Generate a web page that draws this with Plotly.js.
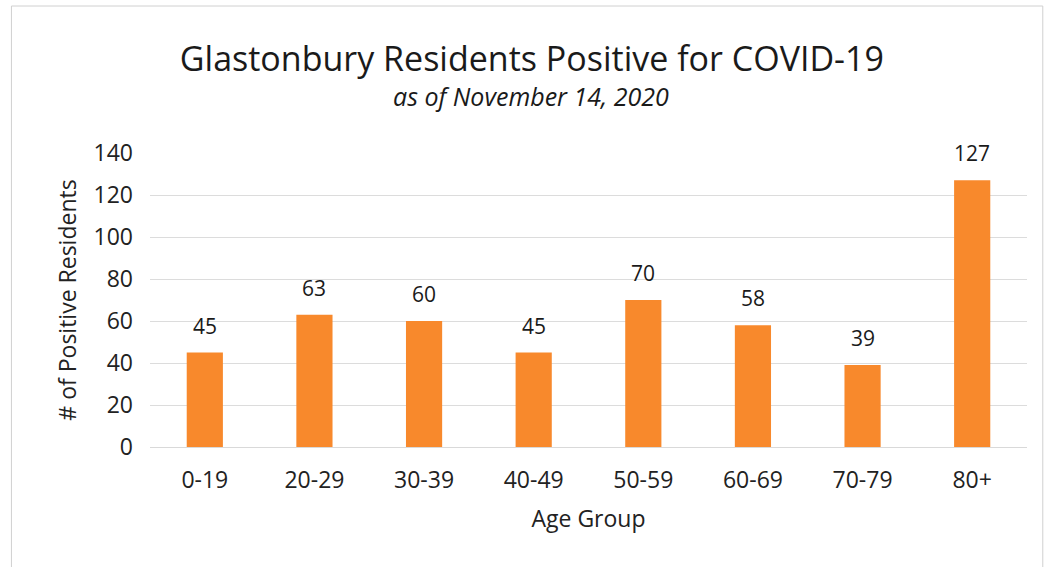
<!DOCTYPE html>
<html>
<head>
<meta charset="utf-8">
<script src="https://cdn.plot.ly/plotly-3.0.1.min.js"></script>
<style>html,body{margin:0;padding:0;background:#fff;}#chart{width:1047px;height:567px;}</style>
</head>
<body>
<div id="chart"></div>
<script>
const categories = ["0-19","20-29","30-39","40-49","50-59","60-69","70-79","80+"];
const positives = [45, 63, 60, 45, 70, 58, 39, 127];
const yTicks = [0, 20, 40, 60, 80, 100, 120, 140];

const font = "'Open Sans', Lato, sans-serif";
const trace = {
  type: "bar",
  x: categories,
  y: positives,
  marker: {color: "#F8892C"},
  hoverinfo: "x+y"
};
const annotations = categories.map((c, i) => ({
  x: c, y: positives[i], text: String(positives[i]),
  showarrow: false, yanchor: "bottom", yshift: 11,
  font: {family: font, size: 21, color: "#1a1a1a"}
}));
annotations.push({
  xref: "paper", yref: "paper", x: 0.435, y: 1.195, yanchor: "middle",
  text: "<i>as of November 14, 2020</i>", showarrow: false,
  font: {family: font, size: 25, color: "#1a1a1a"}
});
const layout = {
  width: 1047, height: 567,
  margin: {l: 150, r: 20, t: 153, b: 120},
  paper_bgcolor: "#fff", plot_bgcolor: "#fff",
  title: {text: "Glastonbury Residents Positive for COVID-19", x: 0.508, xanchor: "center", y: 0.895, yanchor: "middle",
          font: {family: font, size: 34, color: "#1a1a1a"}},
  bargap: 0.67,
  showlegend: false,
  xaxis: {
    type: "category",
    tickfont: {family: font, size: 23, color: "#222"},
    ticks: "", showline: true, linecolor: "#d9d9d9", linewidth: 1,
    ticklabelstandoff: 12,
    title: {text: "Age Group", font: {family: font, size: 23, color: "#222"}, standoff: 17}
  },
  yaxis: {
    range: [0, 140], tickvals: yTicks, ticktext: yTicks.map(String),
    tickfont: {family: font, size: 23, color: "#222"},
    gridcolor: "#dcdcdc", gridwidth: 1, zeroline: false, ticks: "",
    ticklabelstandoff: 16,
    title: {text: "# of Positive Residents", font: {family: font, size: 23, color: "#222"}, standoff: 10}
  },
  annotations: annotations,
  shapes: [{type: "rect", xref: "paper", yref: "paper", x0: -0.158, x1: 1.018, y0: -0.43, y1: 1.5,
            line: {color: "#d0d0d0", width: 1}}]
};
Plotly.newPlot("chart", [trace], layout, {staticPlot: true});
</script>
</body>
</html>
